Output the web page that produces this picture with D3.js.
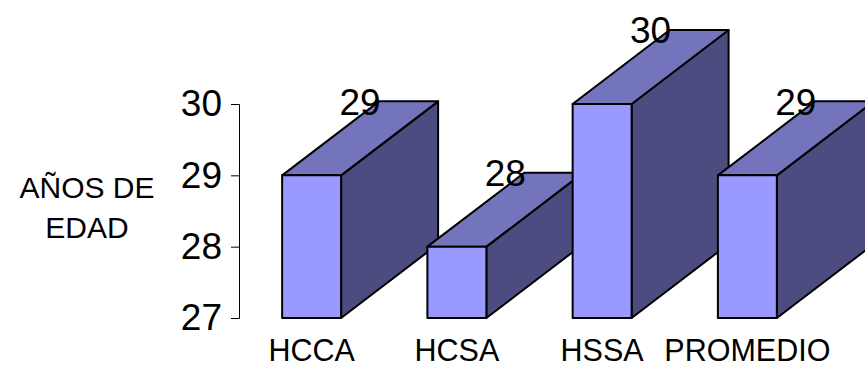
<!DOCTYPE html>
<html>
<head>
<meta charset="utf-8">
<script src="https://cdn.jsdelivr.net/npm/d3@7"></script>
<style>
  body { margin: 0; background: #fff; }
  text { font-family: Arial, "Liberation Sans", sans-serif; fill: #000; }
</style>
</head>
<body>
<svg class="chart" width="865" height="366"></svg>
<script>
const categories = ['HCCA', 'HCSA', 'HSSA', 'PROMEDIO'];
const values = [29, 28, 30, 29];
const yTicks = [27, 28, 29, 30];
const yTitle = ['AÑOS DE', 'EDAD'];

const width = 865, height = 366;
const depthX = 97, depthY = -74;
const frontColor = '#9999ff', topColor = '#7474bc', sideColor = '#4c4c80';

const svg = d3.select('.chart');

const scaleY = d3.scaleLinear()
  .domain([27, 30])
  .range([318, 104]);

const scaleX = d3.scaleBand()
  .domain(categories)
  .range([239, 820])
  .paddingInner(0.594)
  .paddingOuter(0.297);

// y axis
const yAxis = svg.append('g')
  .attr('transform', 'translate(239, 0)')
  .call(d3.axisLeft(scaleY).tickValues(yTicks).tickSize(8).tickPadding(9).tickFormat(d3.format('d')));
yAxis.select('.domain').attr('stroke', '#000').attr('stroke-width', 1);
yAxis.selectAll('.tick line').attr('stroke', '#000');
yAxis.selectAll('.tick text')
  .attr('font-size', 37)
  .attr('font-family', 'Arial, "Liberation Sans", sans-serif')
  .attr('fill', '#000');

// y title
svg.append('text')
  .attr('text-anchor', 'middle')
  .attr('font-size', 30)
  .selectAll('tspan')
  .data(yTitle)
  .join('tspan')
  .attr('x', 87)
  .attr('y', (d, i) => 198 + i * 40)
  .text(d => d);

// bars, drawn left to right so each covers the side of the previous one
const bw = scaleX.bandwidth();
const bars = svg.selectAll('.bar')
  .data(categories.map((c, i) => ({ cat: c, val: values[i] })))
  .join('g')
  .attr('class', 'bar');

bars.each(function(d) {
  const g = d3.select(this);
  const x0 = scaleX(d.cat), x1 = x0 + bw;
  const y0 = scaleY(27), y1 = scaleY(d.val);
  const pts = p => p.map(q => q.join(',')).join(' ');
  g.append('polygon')
    .attr('points', pts([[x1, y1], [x1 + depthX, y1 + depthY], [x1 + depthX, y0 + depthY], [x1, y0]]))
    .attr('fill', sideColor);
  g.append('polygon')
    .attr('points', pts([[x0, y1], [x0 + depthX, y1 + depthY], [x1 + depthX, y1 + depthY], [x1, y1]]))
    .attr('fill', topColor);
  g.append('rect')
    .attr('x', x0).attr('y', y1)
    .attr('width', bw).attr('height', y0 - y1)
    .attr('fill', frontColor);
  g.selectAll('polygon, rect')
    .attr('stroke', '#000')
    .attr('stroke-width', 2)
    .attr('stroke-linejoin', 'round');
});

// value labels sit on the back edge of the top face
svg.selectAll('.valLabel')
  .data(categories.map((c, i) => ({ cat: c, val: values[i] })))
  .join('text')
  .attr('class', 'valLabel')
  .attr('x', d => scaleX(d.cat) + bw / 2 + depthX / 2)
  .attr('y', d => scaleY(d.val) + depthY)
  .attr('dy', '0.36em')
  .attr('text-anchor', 'middle')
  .attr('font-size', 37)
  .text(d => d.val);

// category labels
svg.selectAll('.catLabel')
  .data(categories)
  .join('text')
  .attr('class', 'catLabel')
  .attr('x', d => scaleX(d) + bw / 2)
  .attr('y', 361)
  .attr('text-anchor', 'middle')
  .attr('font-size', 30.5)
  .text(d => d);
</script>
</body>
</html>
